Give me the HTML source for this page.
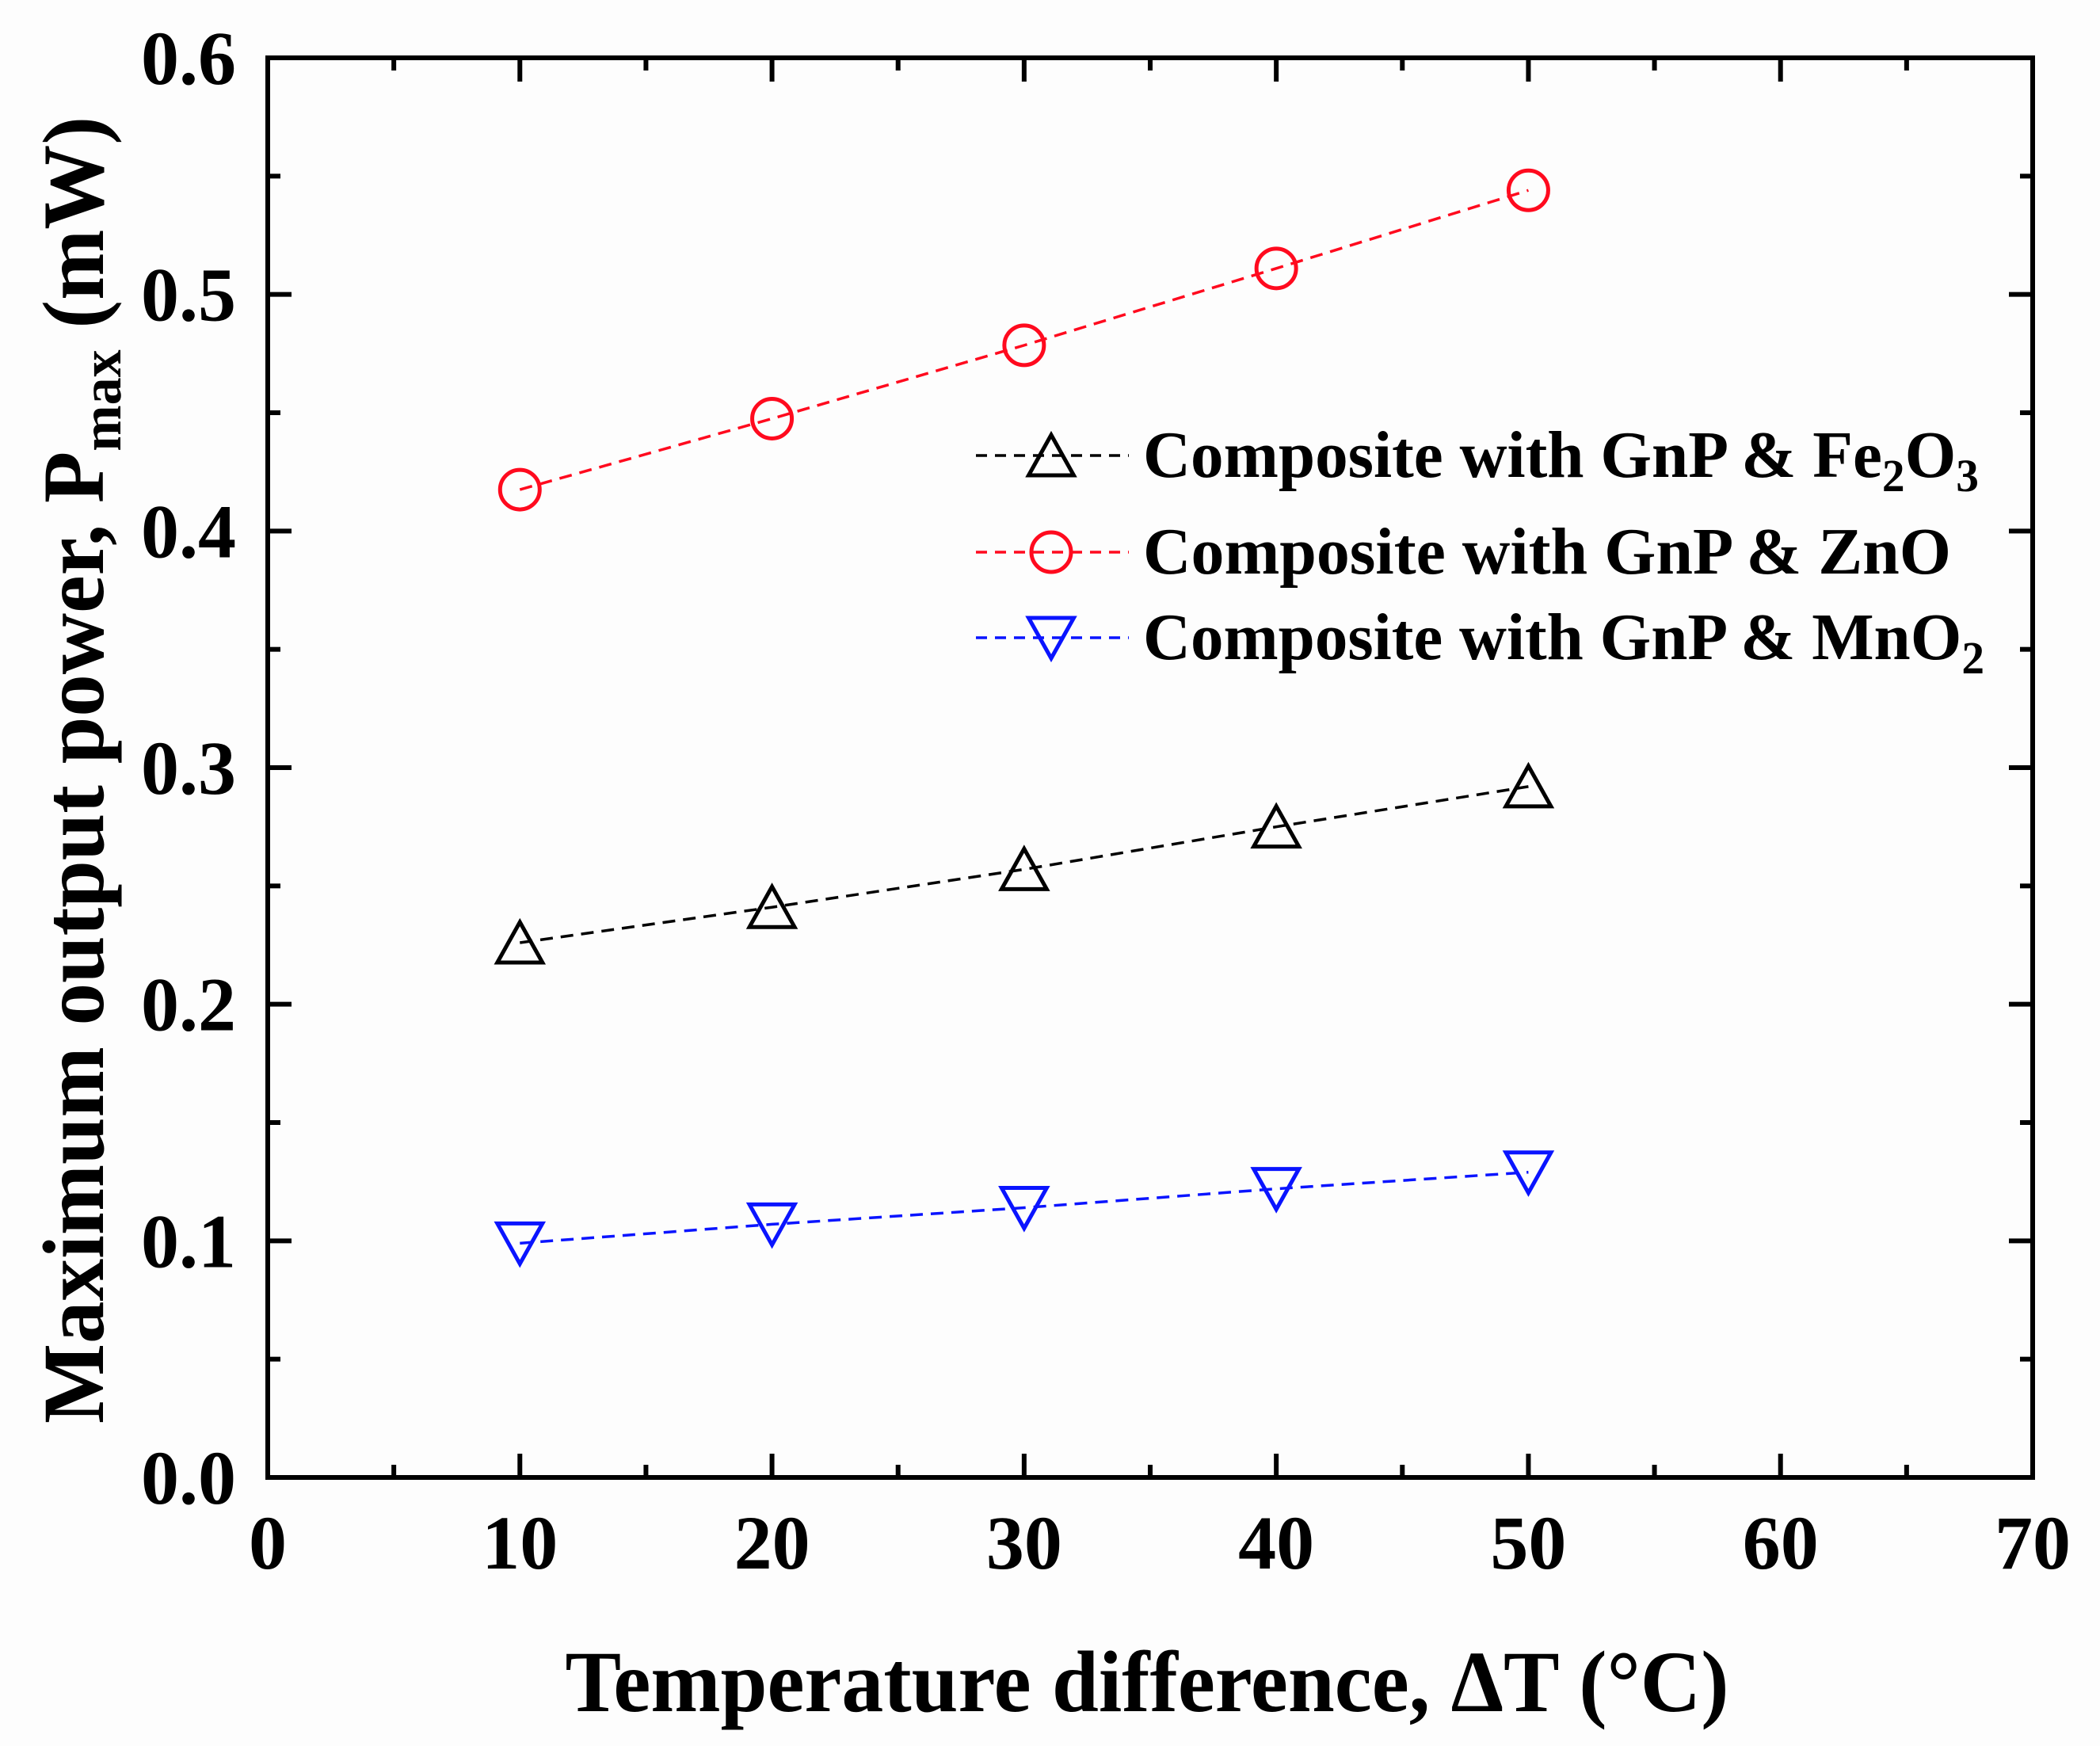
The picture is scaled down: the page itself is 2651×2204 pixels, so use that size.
<!DOCTYPE html>
<html><head><meta charset="utf-8"><style>
html,body{margin:0;padding:0;background:#fdfdfd;}
svg{display:block;}
text{font-family:"Liberation Serif",serif;font-weight:bold;fill:#000;}
</style></head><body>
<svg id="chart" width="2651" height="2204" viewBox="0 0 2651 2204" xmlns="http://www.w3.org/2000/svg">
<rect x="0" y="0" width="2651" height="2204" fill="#fdfdfd"/>
<g id="plot"></g>
<text x="1448" y="2160" font-size="110" text-anchor="middle" textLength="1469" lengthAdjust="spacingAndGlyphs">Temperature difference, ΔT (°C)</text>
<text transform="translate(130,972) rotate(-90)" font-size="110" text-anchor="middle" textLength="1650" lengthAdjust="spacingAndGlyphs">Maximum output power, P<tspan font-size="72" dy="22">max</tspan><tspan dy="-22"> (mW)</tspan></text>
<g id="legend"></g>
</svg>
<script>
const xCategories = [10, 20, 30, 40, 50];
const fe2o3Values = [0.226, 0.241, 0.257, 0.275, 0.292];
const znoValues = [0.4175, 0.4475, 0.4785, 0.511, 0.544];
const mno2Values = [0.099, 0.107, 0.114, 0.122, 0.129];
const xTickLabels = ["0","10","20","30","40","50","60","70"];
const yTickLabels = ["0.0","0.1","0.2","0.3","0.4","0.5","0.6"];

const NS = "http://www.w3.org/2000/svg";
const L = 338, R = 2566, T = 73, B = 1865;
const xMin = 0, xMax = 70, yMin = 0, yMax = 0.6;
function xs(v){ return L + (v - xMin) / (xMax - xMin) * (R - L); }
function ys(v){ return B - (v - yMin) / (yMax - yMin) * (B - T); }
const plot = document.getElementById('plot');
function mk(tag, attrs, parent){
  const e = document.createElementNS(NS, tag);
  for (const k in attrs) e.setAttribute(k, attrs[k]);
  (parent || plot).appendChild(e);
  return e;
}

for (let i = 0; i <= 14; i++) {
  const v = i * 5, x = xs(v), len = (i % 2 === 0) ? 30 : 16;
  const t1 = mk('line', {x1:x, y1:B, x2:x, y2:B-len, stroke:'#000','stroke-width':6});
  
  
  const t2 = mk('line', {x1:x, y1:T, x2:x, y2:T+len, stroke:'#000','stroke-width':6});
  
  
}
for (let i = 0; i <= 12; i++) {
  const v = i * 0.05, y = ys(v), len = (i % 2 === 0) ? 30 : 16;
  const t1 = mk('line', {x1:L, y1:y, x2:L+len, y2:y, stroke:'#000','stroke-width':6});
  
  
  const t2 = mk('line', {x1:R, y1:y, x2:R-len, y2:y, stroke:'#000','stroke-width':6});
  
  
}
const frame = mk('rect', {x:L, y:T, width:R-L, height:B-T, fill:'none', stroke:'#000', 'stroke-width':6});



xTickLabels.forEach((s, i) => {
  const t = mk('text', {x: xs(i*10), y: 1980, 'font-size': 96, 'text-anchor':'middle'});
  
  
  t.textContent = s;
});
yTickLabels.forEach((s, i) => {
  const t = mk('text', {x: 298, y: ys(i*0.1) + 33, 'font-size': 96, 'text-anchor':'end'});
  
  
  t.textContent = s;
});

function triUp(cx, cy, s){ return `M${cx},${cy-s} L${cx+s*0.95},${cy+s*0.7} L${cx-s*0.95},${cy+s*0.7} Z`; }
function triDown(cx, cy, s){ return `M${cx},${cy+s} L${cx+s*0.95},${cy-s*0.7} L${cx-s*0.95},${cy-s*0.7} Z`; }
function marker(kind, cx, cy, color, parent){
  let e;
  if (kind === 'circle') e = mk('circle', {cx:cx, cy:cy, r:25, fill:'none', stroke:color, 'stroke-width':5}, parent);
  else if (kind === 'up') e = mk('path', {d:triUp(cx, cy+4, 30), fill:'none', stroke:color, 'stroke-width':5}, parent);
  else e = mk('path', {d:triDown(cx, cy-4, 30), fill:'none', stroke:color, 'stroke-width':5}, parent);
  return e;
}

const series = [
  {name:'fe2o3', vals:fe2o3Values, color:'#000000', kind:'up'},
  {name:'zno', vals:znoValues, color:'#ff0a1e', kind:'circle'},
  {name:'mno2', vals:mno2Values, color:'#0a14ff', kind:'down'}
];
series.forEach(s => {
  const pts = xCategories.map((c, i) => xs(c) + ',' + ys(s.vals[i])).join(' ');
  const pl = mk('polyline', {points: pts, fill:'none', stroke:s.color, 'stroke-width':3.5, 'stroke-dasharray':'16 10'});
  
  
  xCategories.forEach((c, i) => {
    const m = marker(s.kind, xs(c), ys(s.vals[i]), s.color);
    
    
  });
});

const leg = document.getElementById('legend');
const legendRows = [
  {kind:'up', color:'#000000', y:575, label:'Composite with GnP &amp; Fe<tspan font-size="58" dy="18">2</tspan><tspan dy="-18">O</tspan><tspan font-size="58" dy="18">3</tspan>', name:'legend-entry-fe2o3', w:1055},
  {kind:'circle', color:'#ff0a1e', y:697, label:'Composite with GnP &amp; ZnO', name:'legend-entry-zno', w:1020},
  {kind:'down', color:'#0a14ff', y:805, label:'Composite with GnP &amp; MnO<tspan font-size="58" dy="18">2</tspan>', name:'legend-entry-mno2', w:1062}
];
legendRows.forEach(r => {
  const g = mk('g', {}, leg);
  
  
  mk('line', {x1:1232, y1:r.y, x2:1425, y2:r.y, stroke:r.color, 'stroke-width':3.5, 'stroke-dasharray':'14 10'}, g);
  marker(r.kind, 1327, r.y, r.color, g);
  const t = mk('text', {x:1443, y:r.y+27, 'font-size':84, textLength:r.w, lengthAdjust:'spacingAndGlyphs'}, g);
  t.innerHTML = r.label;
});
</script>
</body></html>
